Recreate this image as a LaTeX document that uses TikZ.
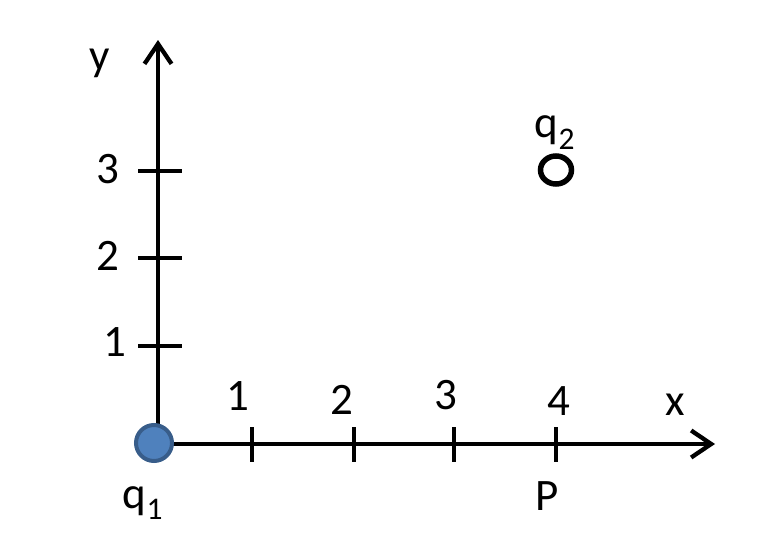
\documentclass[tikz,border=0pt]{standalone}
\usepackage{fontspec}
\setmainfont{Carlito}
\usetikzlibrary{arrows.meta}
\definecolor{qfill}{HTML}{4F81BD}
\definecolor{qdraw}{HTML}{385D8A}
\begin{document}
\begin{tikzpicture}[x=1pt,y=-1pt,
  axis/.style={line width=4.3pt,-{Straight Barb[length=20pt,width=27pt,line width=4.3pt]}},
  tick/.style={line width=4.3pt},
  lab/.style={font=\fontsize{45}{52}\selectfont,inner sep=0pt,anchor=center}]
\useasboundingbox (0,0) rectangle (772,538);
\coordinate (O) at (158,444);
\coordinate (xend) at (715,444);
\coordinate (yend) at (158,40);
\draw[axis] (O) -- (xend);
\draw[axis] (O) -- (yend);
% x ticks
\foreach \x/\n in {252/1,354/2,454/3,556/4}{
  \coordinate (xt\n a) at (\x,427);
  \coordinate (xt\n b) at (\x,462);
  \draw[tick] (xt\n a) -- (xt\n b);
}
% y ticks
\foreach \y/\n in {346/1,258/2,171/3}{
  \coordinate (yt\n a) at (138,\y);
  \coordinate (yt\n b) at (182,\y);
  \draw[tick] (yt\n a) -- (yt\n b);
}
\node[circle,fill=qfill,draw=qdraw,line width=4pt,minimum size=36pt,inner sep=0pt] (q1) at (154,443) {};
\draw[line width=5.5pt] (556,170) ellipse [x radius=15.5pt, y radius=14pt];
\coordinate (q2) at (556,170);
\node[lab] (lx1) at (238,396) {1};
\node[lab] (lx2) at (342,400) {2};
\node[lab] (lx3) at (446,395) {3};
\node[lab] (lx4) at (559,401) {4};
\node[lab] (lx) at (675,405) {x};
\node[lab] (lP) at (547,496) {P};
\node[lab] (lq1) at (143,503) {q\textsubscript{1}};
\node[lab] (ly) at (100,63) {y};
\node[lab] (ly3) at (108,169) {3};
\node[lab] (ly2) at (108,256) {2};
\node[lab] (ly1) at (115,342) {1};
\node[lab] (lq2) at (555,133) {q\textsubscript{2}};
\end{tikzpicture}
\end{document}
